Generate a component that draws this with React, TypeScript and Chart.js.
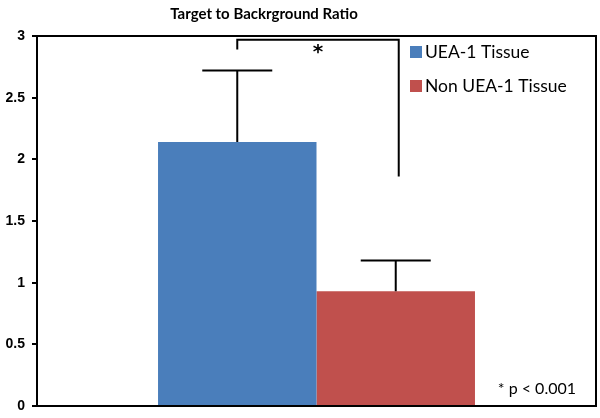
import React, { useEffect, useRef } from "react";
import { Chart, registerables } from "chart.js";

Chart.register(...registerables);

const categories = [""];
const seriesNames = ["UEA-1 Tissue", "Non UEA-1 Tissue"];
const ueaValues = [2.14];
const nonUeaValues = [0.93];
const ueaErrors = [0.58];
const nonUeaErrors = [0.25];
const yTicks = [0, 0.5, 1, 1.5, 2, 2.5, 3];
const bracketTop = 2.97;
const bracketLeftBottom = 2.89;
const bracketRightBottom = 1.86;
const titleText = "Target to Backrground Ratio";
const noteText = "* p < 0.001";
const colors = ["#4A7EBB", "#C0504D"];

const overlayPlugin = {
  id: "overlay",
  afterDatasetsDraw(chart: any) {
    const ctx = chart.ctx;
    const y = chart.scales.y;
    const area = chart.chartArea;
    const errs = [ueaErrors, nonUeaErrors];
    const vals = [ueaValues, nonUeaValues];
    ctx.save();
    ctx.strokeStyle = "#000";
    ctx.lineWidth = 2;
    // error bars
    [0, 1].forEach((di) => {
      const meta = chart.getDatasetMeta(di);
      meta.data.forEach((el: any, i: number) => {
        const top = y.getPixelForValue(vals[di][i] + errs[di][i]);
        const base = y.getPixelForValue(vals[di][i]);
        ctx.beginPath();
        ctx.moveTo(el.x, base);
        ctx.lineTo(el.x, top);
        ctx.moveTo(el.x - 35, top);
        ctx.lineTo(el.x + 35, top);
        ctx.stroke();
      });
    });
    // bracket
    const x1 = chart.getDatasetMeta(0).data[0].x;
    const x2 = chart.getDatasetMeta(1).data[0].x + 3;
    const yt = y.getPixelForValue(bracketTop);
    ctx.beginPath();
    ctx.moveTo(x1, y.getPixelForValue(bracketLeftBottom));
    ctx.lineTo(x1, yt);
    ctx.lineTo(x2, yt);
    ctx.lineTo(x2, y.getPixelForValue(bracketRightBottom));
    ctx.stroke();
    ctx.fillStyle = "#000";
    ctx.font = "bold 20px 'DejaVu Sans'";
    ctx.textAlign = "center";
    ctx.textBaseline = "top";
    ctx.fillText("*", (x1 + x2) / 2, yt + 3);
    // plot frame
    ctx.lineWidth = 2;
    ctx.beginPath();
    ctx.moveTo(area.left, area.top);
    ctx.lineTo(area.right, area.top);
    ctx.lineTo(area.right, area.bottom);
    ctx.lineTo(area.left, area.bottom);
    ctx.closePath();
    ctx.stroke();
    // legend
    ctx.font = "17.5px Lato";
    ctx.textAlign = "left";
    ctx.textBaseline = "middle";
    seriesNames.forEach((n, i) => {
      const ly = 52 + i * 34;
      ctx.fillStyle = colors[i];
      ctx.fillRect(410, ly - 6, 12, 12);
      ctx.fillStyle = "#000";
      ctx.fillText(n, 425, ly);
    });
    // note
    ctx.font = "16px Lato";
    ctx.textAlign = "right";
    ctx.fillText(noteText, 576, 389);
    // title
    ctx.font = "bold 15px Lato";
    ctx.textAlign = "center";
    ctx.fillText(titleText, 264, 14);
    ctx.restore();
  },
};

export default function App() {
  const ref = useRef<HTMLCanvasElement>(null);
  useEffect(() => {
    const chart = new Chart(ref.current!, {
      type: "bar",
      data: {
        labels: categories,
        datasets: [
          { label: seriesNames[0], data: ueaValues, backgroundColor: colors[0] },
          { label: seriesNames[1], data: nonUeaValues, backgroundColor: colors[1] },
        ],
      },
      options: {
        animation: false,
        responsive: false,
        layout: { padding: { left: 0, right: 4, top: 36, bottom: 0 } },
        datasets: { bar: { barPercentage: 1, categoryPercentage: 0.567 } },
        plugins: { legend: { display: false }, title: { display: false }, tooltip: { enabled: false } },
        scales: {
          x: {
            grid: { display: false, drawTicks: false },
            border: { display: false },
            ticks: { display: false },
            afterFit(s: any) { s.height = 12; },
          },
          y: {
            min: 0,
            max: 3,
            afterBuildTicks(s: any) { s.ticks = yTicks.map((v) => ({ value: v })); },
            afterFit(s: any) { s.width = 37; s.paddingTop = 0; s.paddingBottom = 0; },
            grid: { drawOnChartArea: false, color: "#000", lineWidth: 2, tickLength: 5 },
            border: { color: "#000", width: 2 },
            ticks: {
              color: "#000",
              padding: 7,
              font: { family: "'Liberation Sans'", size: 14, weight: "bold" },
              callback: (v: any) => String(v),
            },
          },
        },
      },
      plugins: [overlayPlugin],
    });
    return () => chart.destroy();
  }, []);
  return (
    <div style={{ position: "absolute", left: 0, top: 0, width: 600, height: 418, background: "#fff" }}>
      <canvas ref={ref} width={600} height={418} />
    </div>
  );
}
